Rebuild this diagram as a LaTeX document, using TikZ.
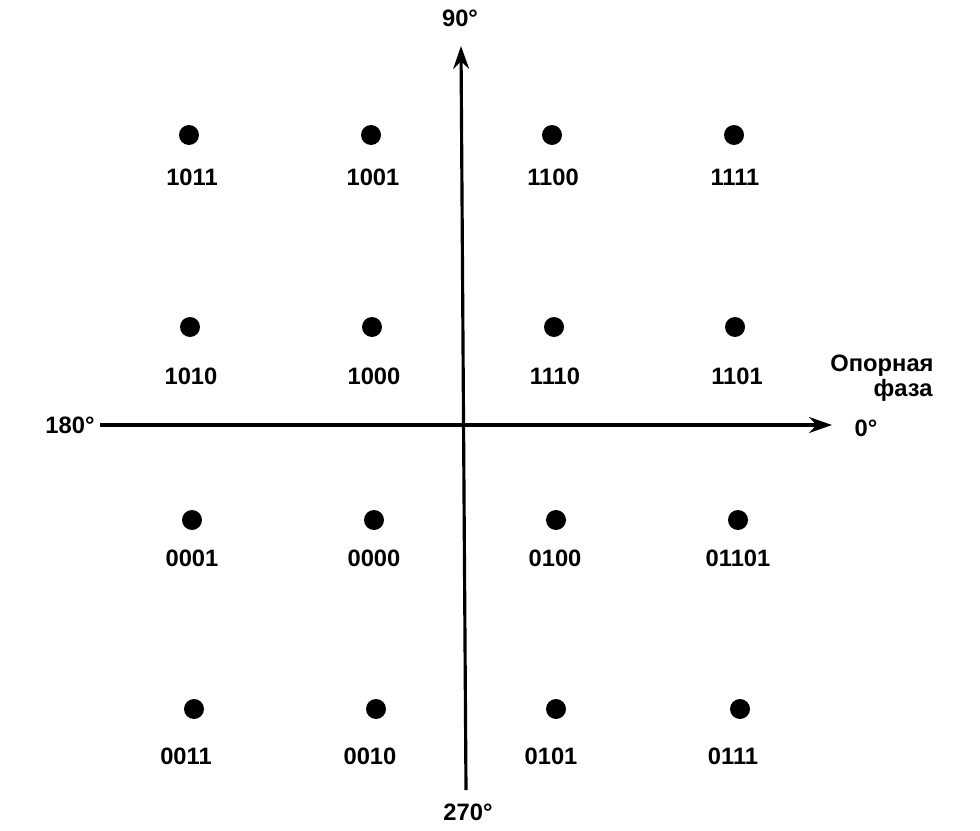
\documentclass[tikz,border=0pt]{standalone}
\usepackage{fontspec}
\setmainfont{Liberation Sans}
\usetikzlibrary{arrows.meta}
\begin{document}
\begin{tikzpicture}[x=0.02cm,y=-0.02cm,
  pt/.style={circle,fill=black,inner sep=0pt,minimum size=0.40cm},
  lab/.style={font=\fontsize{13.5}{15}\selectfont\bfseries,inner sep=0pt},
  axis/.style={line width=1.8pt,-{Stealth[length=13pt,width=9pt]}}]
\useasboundingbox (0,0) rectangle (980,831);
% axes
\coordinate (vb) at (466,790);
\coordinate (vt) at (461,46);
\coordinate (hl) at (100,425);
\coordinate (hr) at (832,425);
\draw[axis] (vb) -- (vt);
\draw[axis] (hl) -- (hr);
% axis labels
\node[lab] (n90) at (460,18) {90°};
\node[lab] (n270) at (468,812) {270°};
\node[lab] (n180) at (70,425) {180°};
\node[lab] (n0) at (866,428) {0°};
\node[lab] (ref1) at (882,366) {Опорная};
\node[lab] (ref2) at (903,390) {фаза};
% points
\foreach \x/\y/\lx/\ly/\t/\n in {
  189/135/192/177/1011/a1, 371/135/373/177/1001/a2, 552/135/553/177/1100/a3, 734/135/735/177/1111/a4,
  190/327/191/376/1010/b1, 372/327/374/376/1000/b2, 554/327/555/376/1110/b3, 735/327/737/376/1101/b4,
  192/520/192/558/0001/c1, 374/520/374/558/0000/c2, 556/520/555/558/0100/c3, 738/520/738/558/01101/c4,
  194/709/186/756/0011/d1, 376/709/370/756/0010/d2, 556/709/551/756/0101/d3, 740/709/733/756/0111/d4}
{
  \node[pt] (p\n) at (\x,\y) {};
  \node[lab] (l\n) at (\lx,\ly) {\t};
}
\end{tikzpicture}
\end{document}
